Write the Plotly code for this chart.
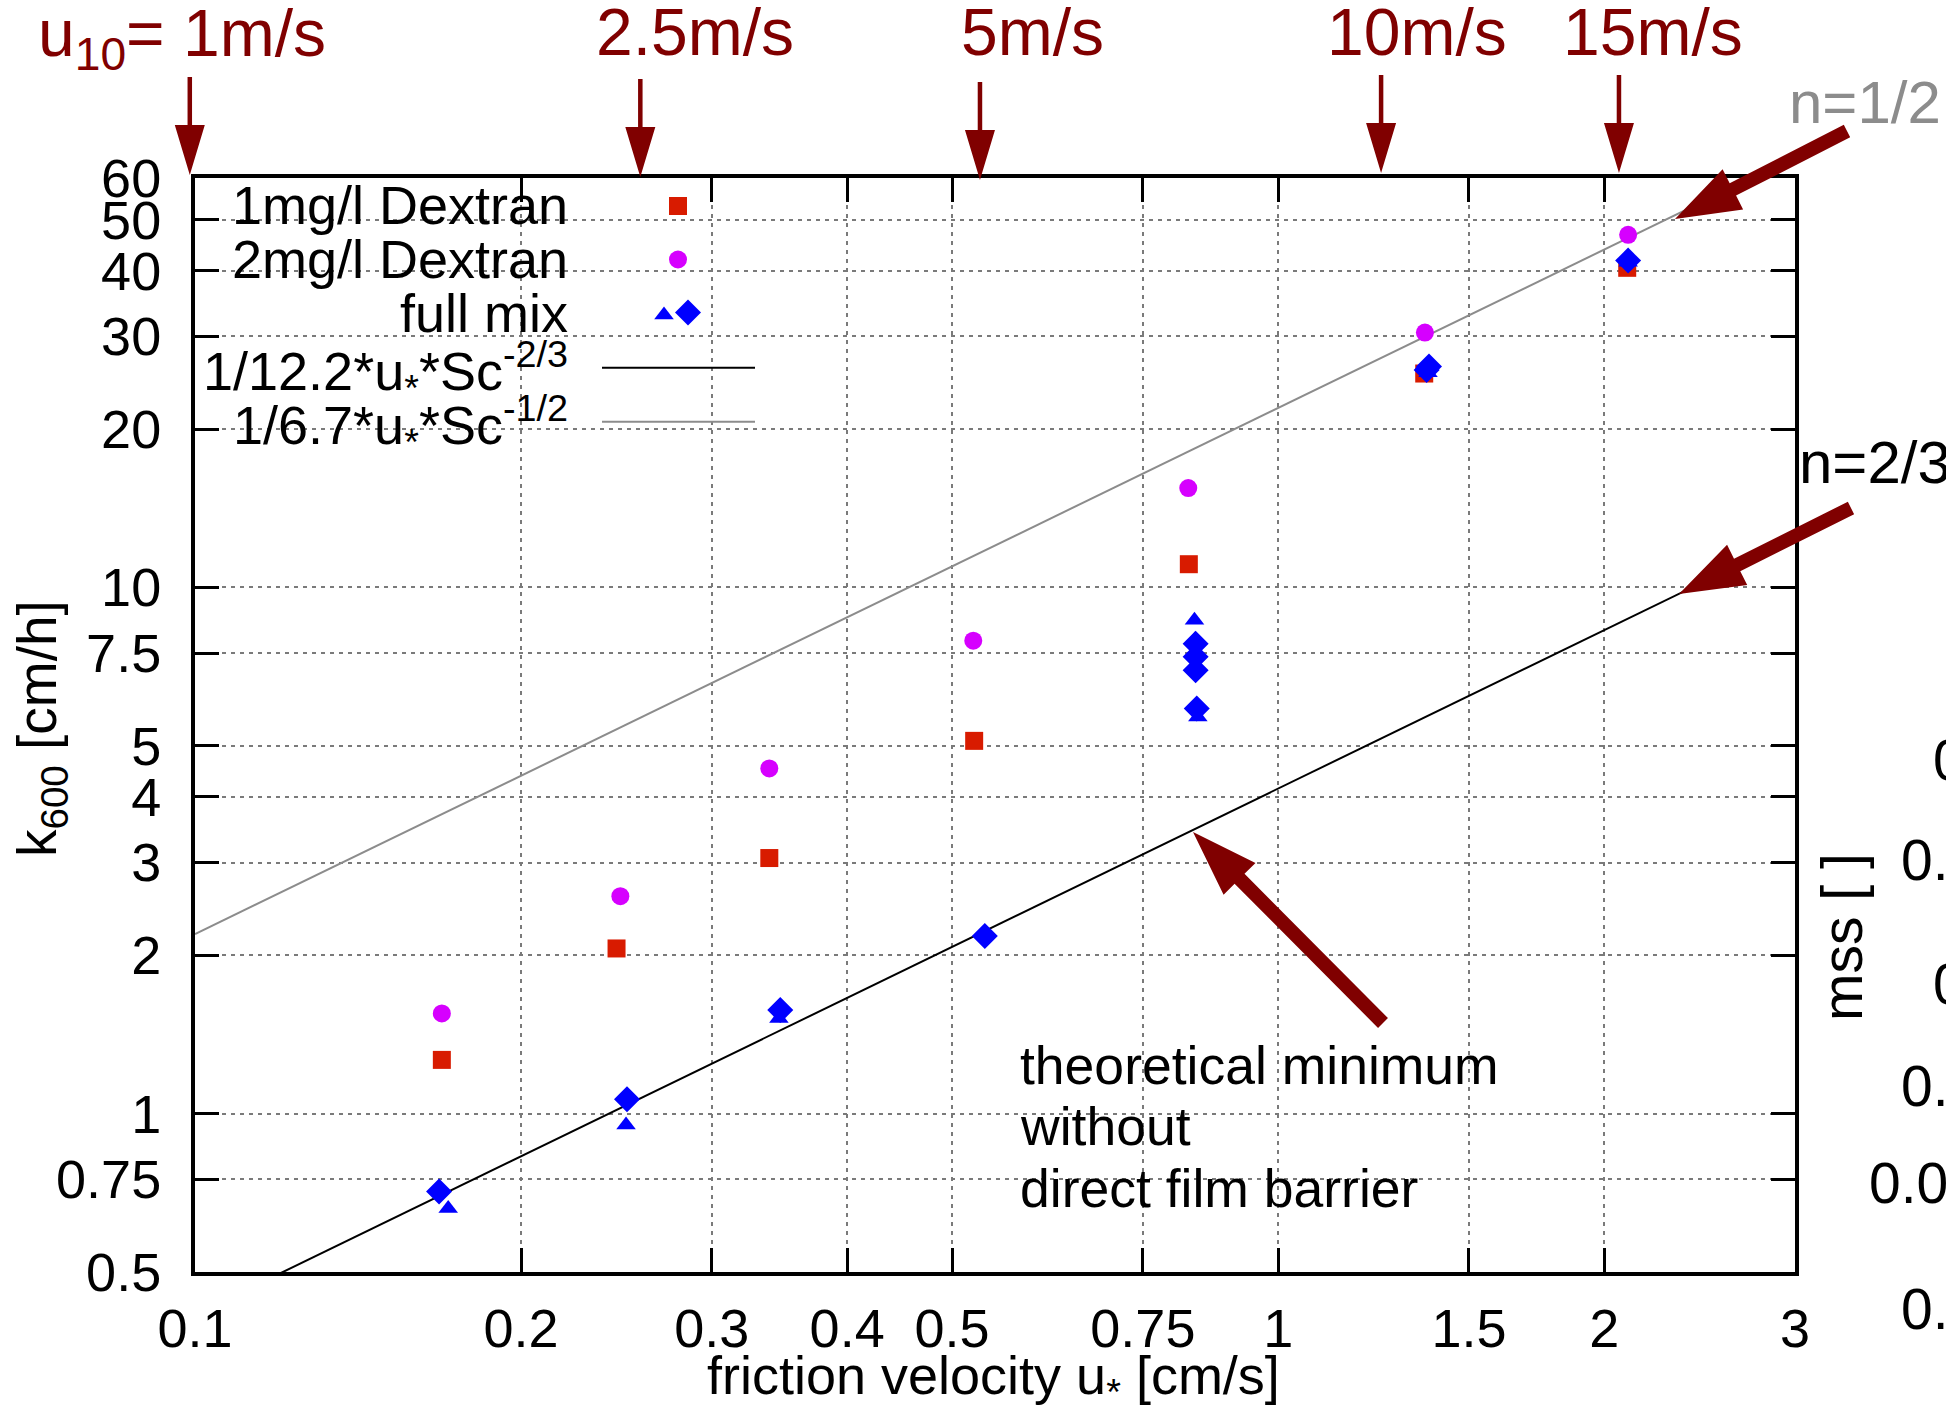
import math
import plotly.graph_objects as go

# ---------------- data ----------------
ustar_1mg = [0.169, 0.245, 0.339, 0.524, 0.827, 1.364, 2.100]
k600_1mg = [1.265, 2.06, 3.06, 5.11, 11.07, 25.5, 40.5]

ustar_2mg = [0.169, 0.247, 0.339, 0.523, 0.826, 1.366, 2.104]
k600_2mg = [1.55, 2.59, 4.53, 7.92, 15.45, 30.5, 46.8]

ustar_mix_tri = [0.1713, 0.250, 0.346, 0.837, 0.838, 0.843, 1.375, 2.104]
k600_mix_tri = [0.660, 0.951, 1.517, 8.66, 7.95, 5.67, 25.6, 41.5]

ustar_mix_dia = [0.168, 0.2505, 0.347, 0.536, 0.839, 0.839, 0.839, 0.841, 1.371, 1.378, 2.104]
k600_mix_dia = [0.711, 1.065, 1.573, 2.175, 7.82, 7.38, 6.96, 5.89, 25.9, 26.3, 41.8]

# theoretical lines: k600 = u* * 3600 / beta * Sc^-n
Sc = 600.0
beta_23, n_23 = 12.2, 2.0 / 3.0
beta_12, n_12 = 6.7, 1.0 / 2.0
fit_ustar = [0.1, 3.0]
k_23 = [u * 3600.0 / beta_23 * Sc ** (-n_23) for u in fit_ustar]
k_12 = [u * 3600.0 / beta_12 * Sc ** (-n_12) for u in fit_ustar]

xtick_vals = [0.1, 0.2, 0.3, 0.4, 0.5, 0.75, 1, 1.5, 2, 3]
xtick_text = ["0.1", "0.2", "0.3", "0.4", "0.5", "0.75", "1", "1.5", "2", "3"]
ytick_vals = [0.5, 0.75, 1, 2, 3, 4, 5, 7.5, 10, 20, 30, 40, 50, 60]
ytick_text = ["0.5", "0.75", "1", "2", "3", "4", "5", "7.5", "10", "20", "30", "40", "50", "60"]

# wind speed markers on the u* axis
u10_text = ["u<sub>10</sub>= 1m/s", "2.5m/s", "5m/s", "10m/s", "15m/s"]
u10_ustar = [0.0989, 0.2577, 0.5305, 1.2445, 2.0635]

# cropped right-hand (mss) axis labels
mss_text = ["0.2", "0.15", "0.1", "0.05", "0.025", "0.01"]

legend_names = ["1mg/l Dextran", "2mg/l Dextran", "full mix",
                "1/12.2*u<sub>*</sub>*Sc<sup>-2/3</sup>",
                "1/6.7*u<sub>*</sub>*Sc<sup>-1/2</sup>"]

# ---------------- layout geometry (pixels) ----------------
W, H = 1946, 1406
L, R, T, B = 195, 1795, 178, 1272
PW, PH = R - L, B - T
XMIN, XMAX = 0.1, 3.0
YMIN, YMAX = 0.5, 60.0
FONT = "Liberation Sans, Arial, Helvetica, sans-serif"
DARKRED = "#800000"
RED = "#D81B00"
MAGENTA = "#D600FF"
BLUE = "#0000FF"
GRAY = "#8c8c8c"


def px2paper(X, Y):
    return (X - L) / PW, (B - Y) / PH


def ustar2px(u):
    return L + (math.log10(u) - math.log10(XMIN)) / (math.log10(XMAX) - math.log10(XMIN)) * PW


def label(text, X, baseline, size, color="black", anchor="left", extra=0.0):
    x, _ = px2paper(X, 0)
    _, y = px2paper(0, baseline + 0.212 * size + extra)
    return dict(text=text, x=x, y=y, xref="paper", yref="paper", xanchor=anchor,
                yanchor="bottom", showarrow=False, borderpad=0, borderwidth=0,
                font=dict(size=size, color=color, family=FONT))


def arrow_path(tail, tip, shaft_w, head_len, head_w):
    tx, ty = tail
    hx, hy = tip
    dx, dy = hx - tx, hy - ty
    n = math.hypot(dx, dy)
    ux, uy = dx / n, dy / n
    px, py = -uy, ux
    nx, ny = hx - ux * head_len, hy - uy * head_len
    pts = [
        (tx + px * shaft_w / 2, ty + py * shaft_w / 2),
        (nx + px * shaft_w / 2, ny + py * shaft_w / 2),
        (nx + px * head_w / 2, ny + py * head_w / 2),
        (hx, hy),
        (nx - px * head_w / 2, ny - py * head_w / 2),
        (nx - px * shaft_w / 2, ny - py * shaft_w / 2),
        (tx - px * shaft_w / 2, ty - py * shaft_w / 2),
    ]
    path = ""
    for i, (X, Y) in enumerate(pts):
        a, b = px2paper(X, Y)
        path += ("M" if i == 0 else "L") + f"{a:.5f},{b:.5f} "
    path += "Z"
    return dict(type="path", path=path, xref="paper", yref="paper",
                fillcolor=DARKRED, line=dict(width=0), layer="above")


fig = go.Figure()

# theory lines
fig.add_trace(go.Scatter(x=fit_ustar, y=k_23, mode="lines", line=dict(color="black", width=2),
                         showlegend=False, hoverinfo="skip"))
fig.add_trace(go.Scatter(x=fit_ustar, y=k_12, mode="lines", line=dict(color=GRAY, width=2),
                         showlegend=False, hoverinfo="skip"))

# measurements
SQ, CI, TR, DI = 18, 18, 17, 20
fig.add_trace(go.Scatter(x=ustar_1mg, y=k600_1mg, mode="markers", name=legend_names[0],
                         marker=dict(symbol="square", size=SQ, color=RED, line=dict(width=0)),
                         showlegend=False))
fig.add_trace(go.Scatter(x=ustar_2mg, y=k600_2mg, mode="markers", name=legend_names[1],
                         marker=dict(symbol="circle", size=CI, color=MAGENTA, line=dict(width=0)),
                         showlegend=False))
fig.add_trace(go.Scatter(x=ustar_mix_tri, y=k600_mix_tri, mode="markers", name=legend_names[2],
                         marker=dict(symbol="triangle-up", size=TR, color=BLUE, line=dict(width=0)),
                         showlegend=False))
fig.add_trace(go.Scatter(x=ustar_mix_dia, y=k600_mix_dia, mode="markers", name=legend_names[2],
                         marker=dict(symbol="diamond", size=DI, color=BLUE, line=dict(width=0)),
                         showlegend=False))

# ---- hand-made key (gnuplot style: text right-aligned, symbol to the right) ----
key_axes = dict(xaxis="x2", yaxis="y2", showlegend=False, hoverinfo="skip", cliponaxis=False)
kx, ky = px2paper(678, 206)
fig.add_trace(go.Scatter(x=[kx], y=[ky], mode="markers",
                         marker=dict(symbol="square", size=SQ, color=RED), **key_axes))
kx, ky = px2paper(678, 259.5)
fig.add_trace(go.Scatter(x=[kx], y=[ky], mode="markers",
                         marker=dict(symbol="circle", size=CI, color=MAGENTA), **key_axes))
kx, ky = px2paper(664, 315)
fig.add_trace(go.Scatter(x=[kx], y=[ky], mode="markers",
                         marker=dict(symbol="triangle-up", size=TR, color=BLUE), **key_axes))
kx, ky = px2paper(688, 312.5)
fig.add_trace(go.Scatter(x=[kx], y=[ky], mode="markers",
                         marker=dict(symbol="diamond", size=DI, color=BLUE), **key_axes))
for yy, col in [(367.7, "black"), (421.7, GRAY)]:
    a0, b0 = px2paper(602, yy)
    a1, _ = px2paper(755, yy)
    fig.add_trace(go.Scatter(x=[a0, a1], y=[b0, b0], mode="lines",
                             line=dict(color=col, width=2), **key_axes))

shapes = []
# white key background hides the grid
kx0, ky0 = px2paper(L, 447)
kx1, ky1 = px2paper(788, T)
shapes.append(dict(type="rect", xref="paper", yref="paper", x0=kx0, y0=ky0, x1=kx1, y1=ky1,
                   fillcolor="white", line=dict(width=0), layer="between"))

# u10 arrows (pointing down onto the top axis)
tops = [77, 79, 82, 75, 75]
tips = [175, 177, 180, 173, 173]
for u, t0, t1 in zip(u10_ustar, tops, tips):
    X = ustar2px(u)
    shapes.append(arrow_path((X, t0), (X, t1), 4.5, 50, 30))

# diagonal arrows
shapes.append(arrow_path((1847, 131), (1675, 219), 14, 65, 45))
shapes.append(arrow_path((1851, 508), (1679, 594), 14, 65, 45))
shapes.append(arrow_path((1383, 1023), (1193, 832), 14, 66, 45))

annotations = []
# u10 labels
annotations.append(label(u10_text[0], 38, 55, 66, DARKRED, "left", extra=11))
for txt, cx in zip(u10_text[1:], [695, 1032.5, 1417, 1653]):
    annotations.append(label(txt, cx, 55, 66, DARKRED, "center"))

# n labels
annotations.append(label("n=1/2", 1789, 123.3, 60, GRAY, "left"))
annotations.append(label("n=2/3", 1799, 483.3, 60, "black", "left"))

# theoretical minimum text
for txt, bl in zip(["theoretical minimum", "without", "direct film barrier"], [1083.3, 1145, 1206.7]):
    annotations.append(label(txt, 1020, bl, 53.5, "black", "left"))

# key texts
for i, (txt, bl) in enumerate(zip(legend_names, [224, 278, 332, 386, 440])):
    annotations.append(label(txt, 568, bl, 54, "black", "right", extra=(0.21 * 54 if i >= 3 else 0)))

# axis titles
annotations.append(label("friction velocity u<sub>*</sub> [cm/s]", 993, 1390, 54, "black", "center",
                         extra=0.21 * 54))
ax_, ay_ = px2paper(41, 729)
annotations.append(dict(text="k<sub>600</sub> [cm/h]", x=ax_, y=ay_, xref="paper", yref="paper",
                        xanchor="center", yanchor="middle", textangle=-90, showarrow=False,
                        font=dict(size=55, family=FONT, color="black")))
mx_, my_ = px2paper(1842, 937)
annotations.append(dict(text="mss [ ]", x=mx_, y=my_, xref="paper", yref="paper",
                        xanchor="center", yanchor="middle", textangle=-90, showarrow=False,
                        font=dict(size=57, family=FONT, color="black")))

# cropped mss tick labels
for txt, cy in zip(mss_text, [760, 860, 984, 1086, 1183, 1309]):
    annotations.append(label(txt, 2012, cy + 20, 57, "black", "right"))

axis_common = dict(
    type="log", showline=True, linewidth=4, linecolor="black", mirror="ticks",
    ticks="inside", ticklen=24, tickwidth=2.5, tickcolor="black",
    showgrid=True, gridcolor="#7a7a7a", gridwidth=1.5, griddash="4px,5px",
    zeroline=False, automargin=False, tickfont=dict(size=54, family=FONT, color="black"),
)

fig.update_layout(
    width=W, height=H,
    margin=dict(l=L, r=W - R, t=T, b=H - B, pad=0, autoexpand=False),
    paper_bgcolor="white", plot_bgcolor="white",
    showlegend=False,
    xaxis=dict(range=[math.log10(XMIN), math.log10(XMAX)], tickvals=xtick_vals, ticktext=xtick_text,
               ticklabelstandoff=6, **axis_common),
    yaxis=dict(range=[math.log10(YMIN), math.log10(YMAX)], tickvals=ytick_vals, ticktext=ytick_text,
               ticklabelstandoff=19, **axis_common),
    xaxis2=dict(overlaying="x", range=[0, 1], visible=False, anchor="y2"),
    yaxis2=dict(overlaying="y", range=[0, 1], visible=False, anchor="x2"),
    shapes=shapes,
    annotations=annotations,
    font=dict(family=FONT),
)

fig.write_html("out.html",
               config={"displayModeBar": False},
               post_script="document.body.style.margin='0';document.body.style.overflow='hidden';")
